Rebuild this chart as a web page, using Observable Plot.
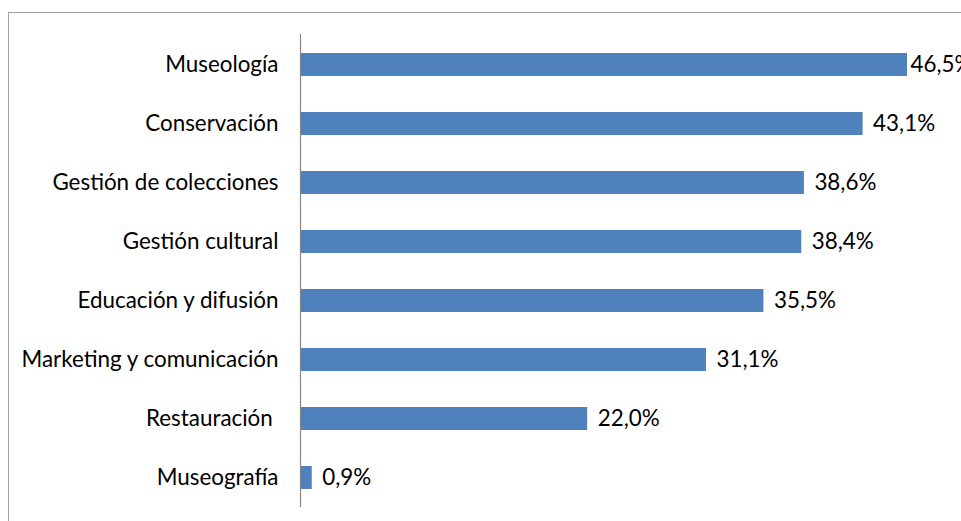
<!DOCTYPE html>
<html>
<head>
<meta charset="utf-8">
<script src="https://cdn.jsdelivr.net/npm/d3@7"></script>
<script src="https://cdn.jsdelivr.net/npm/@observablehq/plot@0.6"></script>
<style>
  html, body { margin: 0; padding: 0; background: #fff; }
  #wrap { position: relative; width: 961px; height: 521px; overflow: hidden; }
  #frame { position: absolute; left: 8px; top: 12px; width: 1000px; height: 600px; border-left: 1.5px solid #a0a0a0; border-top: 1.5px solid #a0a0a0; box-sizing: border-box; }
  #chart { position: absolute; left: 0; top: 0; }
</style>
</head>
<body>
<div id="wrap"><div id="frame"></div><div id="chart"></div></div>
<script>
const categories = ["Museología", "Conservación", "Gestión de colecciones", "Gestión cultural", "Educación y difusión", "Marketing y comunicación", "Restauración ", "Museografía"];
const values = [46.5, 43.1, 38.6, 38.4, 35.5, 31.1, 22.0, 0.9];
const labels = ["46,5%", "43,1%", "38,6%", "38,4%", "35,5%", "31,1%", "22,0%", "0,9%"];

const data = categories.map((c, i) => ({cat: c, value: values[i], label: labels[i]}));
const font = "Lato, 'Open Sans', sans-serif";

const chart = Plot.plot({
  width: 961,
  height: 521,
  marginLeft: 300,
  marginRight: 54,
  marginTop: 34,
  marginBottom: 14,
  style: {fontFamily: font, fontSize: "22.4px", color: "#000", background: "transparent"},
  x: {domain: [0, 46.5], axis: null},
  y: {domain: categories, padding: 0, label: null, tickSize: 0, tickPadding: 22},
  marks: [
    Plot.barX(data, {x: "value", y: "cat", fill: "#4F81BD", insetTop: 18, insetBottom: 18}),
    Plot.ruleX([0], {stroke: "#868686", strokeWidth: 1.2}),
    Plot.text(data.slice(0, 1), {x: "value", y: "cat", text: "label", textAnchor: "start", dx: 3, fill: "#000", fontSize: 22.4}),
    Plot.text(data.slice(1), {x: "value", y: "cat", text: "label", textAnchor: "start", dx: 10, fill: "#000", fontSize: 22.4})
  ]
});
chart.style.overflow = "visible";
document.getElementById("chart").appendChild(chart);
</script>
</body>
</html>
